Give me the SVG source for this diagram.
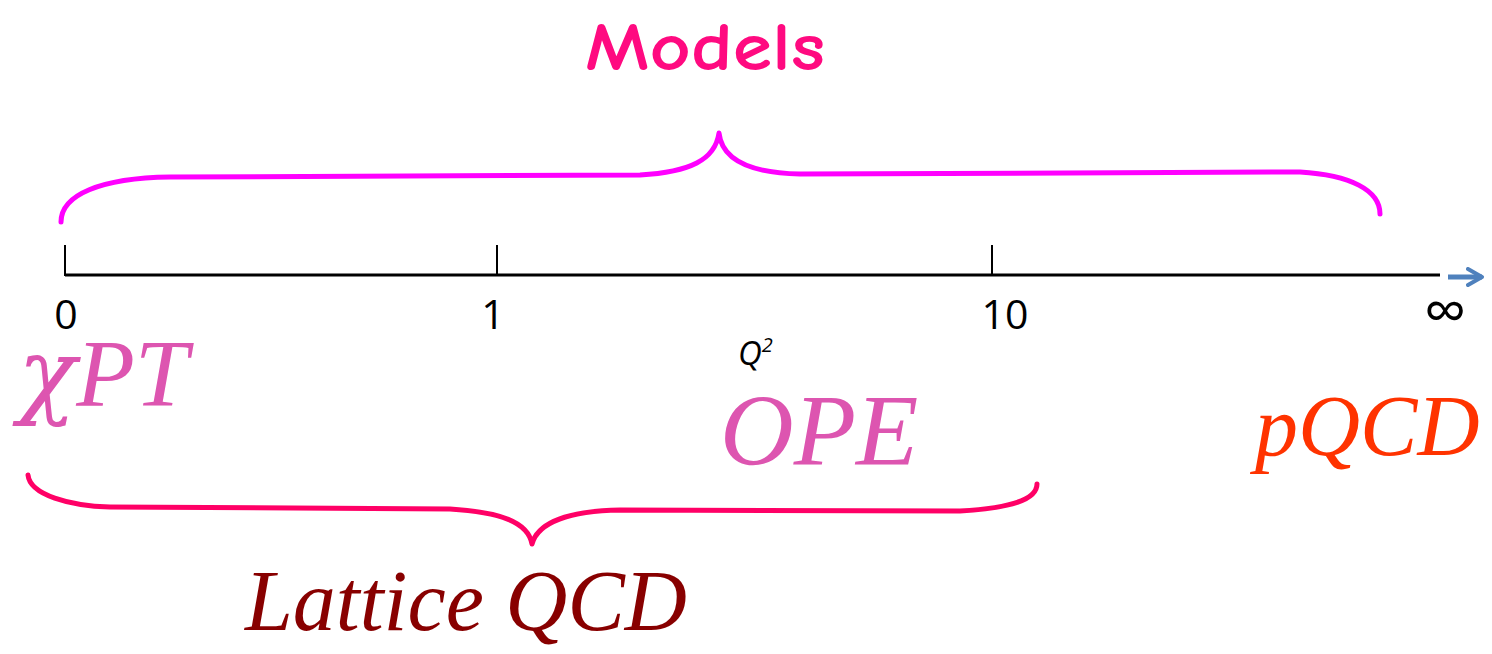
<svg xmlns="http://www.w3.org/2000/svg" width="1492" height="654" viewBox="0 0 1492 654">
<style>
.tick{font-family:"Open Sans","Noto Sans","DejaVu Sans",sans-serif;font-size:41px;fill:#000}
.math{font-family:"Liberation Serif","Times New Roman",serif;font-style:italic}
.brace{fill:none;stroke-width:5;stroke-linecap:round;stroke-linejoin:round}
</style>
<defs>
<marker id="arr" viewBox="0 0 10 10" refX="8" refY="5" markerWidth="4" markerHeight="4" orient="auto">
<path d="M1,1 L8,5 L1,9" fill="none" stroke="#4F81BD" stroke-width="2" stroke-linecap="round" stroke-linejoin="round"/>
</marker>
</defs>
<rect width="1492" height="654" fill="#fff"/>
<g id="axis">
<line x1="65" y1="275" x2="1440" y2="275" stroke="#000" stroke-width="3"/>
<line x1="65" y1="245" x2="65" y2="276" stroke="#000" stroke-width="2"/>
<line x1="497" y1="245" x2="497" y2="276" stroke="#000" stroke-width="2"/>
<line x1="992" y1="245" x2="992" y2="276" stroke="#000" stroke-width="2"/>
<line x1="1448" y1="277" x2="1482" y2="277" stroke="#4F81BD" stroke-width="5" marker-end="url(#arr)"/>
</g>
<g id="labels">
<text class="tick" x="66" y="329" text-anchor="middle">0</text>
<text class="tick" x="493" y="329" text-anchor="middle">1</text>
<text class="tick" x="1005" y="329" text-anchor="middle">10</text>
<text class="tick" x="1445" y="332" text-anchor="middle" style="font-size:60px">∞</text>
<text x="738" y="365" font-family="Open Sans,Noto Sans,DejaVu Sans,sans-serif" font-style="italic" font-size="33">Q<tspan font-size="20" dy="-13">2</tspan></text>
</g>
<g id="models">
<text x="705" y="70" text-anchor="middle" font-family="Comic Sans MS,Comic Neue,DejaVu Sans,sans-serif" font-weight="bold" font-size="68" fill="#FF0A80" textLength="240" lengthAdjust="spacingAndGlyphs">Models</text>
</g>
<g id="chiPT">
<text class="math" x="18" y="406" font-size="96" fill="#DD55B0"><tspan font-family="DejaVu Serif,serif">χ</tspan>PT</text>
</g>
<g id="OPE">
<text class="math" x="720" y="465" font-size="102" fill="#DD55B0">OPE</text>
</g>
<g id="pQCD">
<text class="math" x="1255" y="455" font-size="86" fill="#FF3300">pQCD</text>
</g>
<g id="lattice">
<text class="math" x="245" y="630" font-size="86" fill="#880000">Lattice QCD</text>
</g>
<g id="connectors">
<path class="brace" stroke="#FF00FF" d="M61,222 C61,195 100,178 170,177 L640,175 C690,172 715,160 719,133 C722,160 750,173 800,174 L1300,172 C1350,175 1380,190 1380,214"/>
<path class="brace" stroke="#FF0066" d="M28,475 C30,495 70,506 110,507 L450,509 C500,512 528,522 532,544 C538,522 570,511 620,510 L960,511 C1010,508 1037,500 1037,484"/>
</g>
</svg>
